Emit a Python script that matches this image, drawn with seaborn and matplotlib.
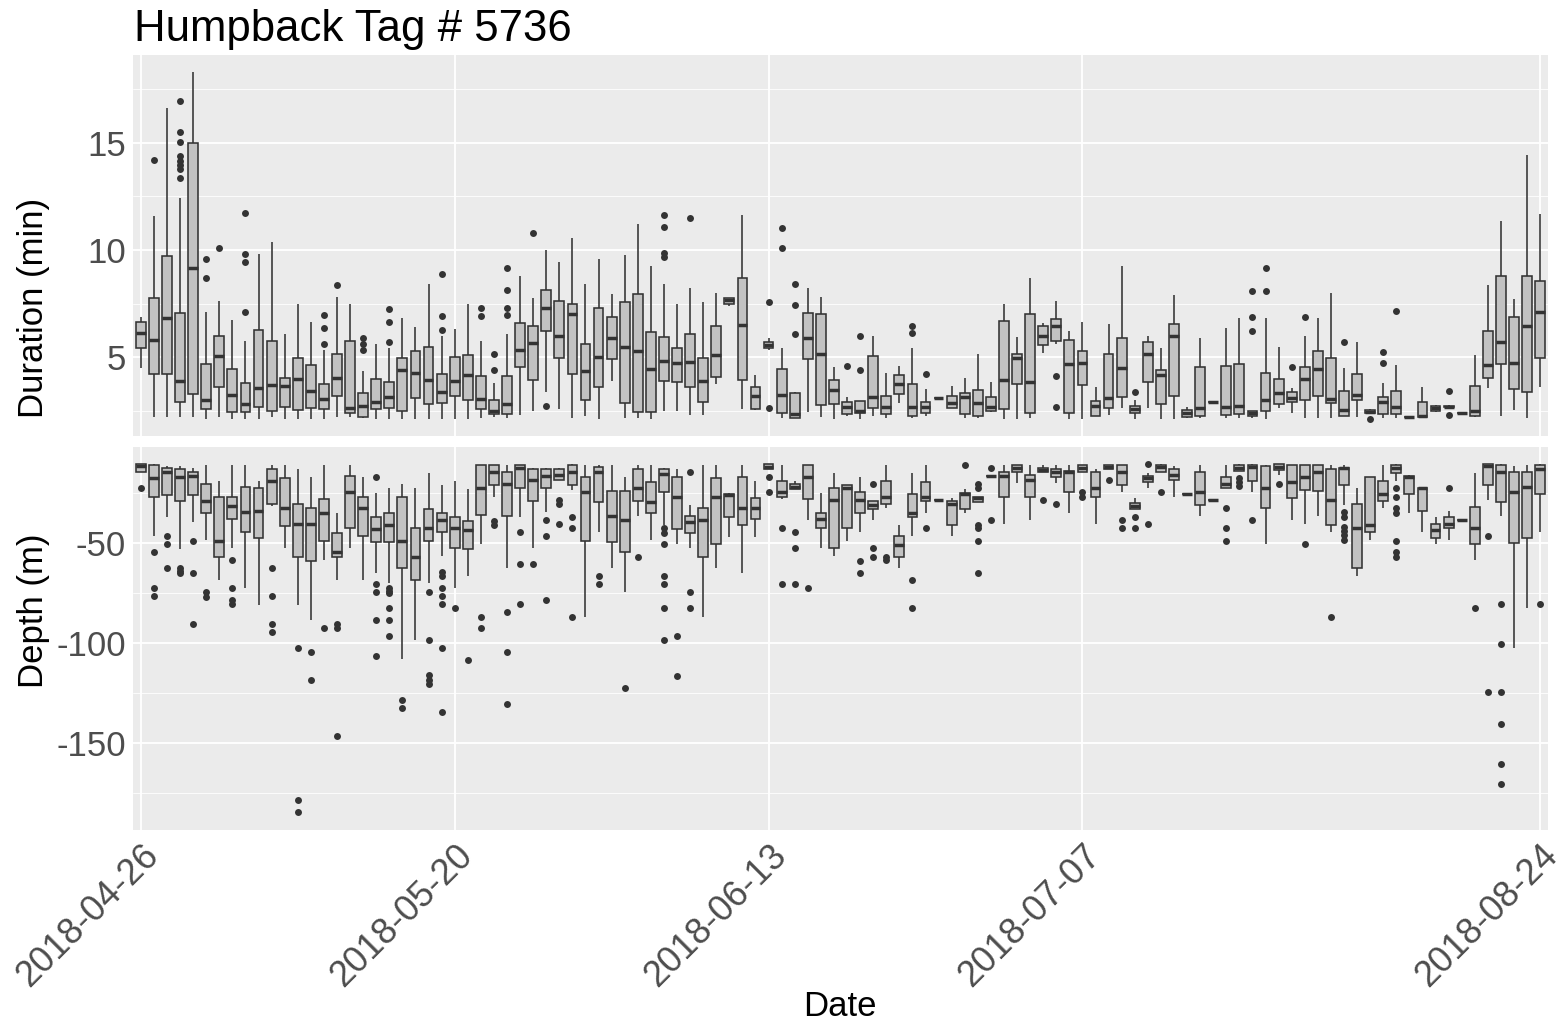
import matplotlib
matplotlib.use("Agg")
import matplotlib.pyplot as plt
import matplotlib.transforms as mtransforms
from matplotlib.ticker import MultipleLocator, FixedLocator
import seaborn as sns
import pandas as pd

# dias con datos: 04-26 .. 07-07 seguidos, despues solo algunos dias hasta 08-24
early_dates = list(pd.date_range("2018-04-26", "2018-07-07").strftime("%Y-%m-%d"))
late_dates = [
    "2018-07-08", "2018-07-10", "2018-07-11", "2018-07-12", "2018-07-14", "2018-07-15",
    "2018-07-16", "2018-07-18", "2018-07-19", "2018-07-20", "2018-07-22", "2018-07-23",
    "2018-07-24", "2018-07-26", "2018-07-27", "2018-07-28", "2018-07-30", "2018-07-31",
    "2018-08-02", "2018-08-03", "2018-08-04", "2018-08-06", "2018-08-07", "2018-08-09",
    "2018-08-10", "2018-08-12", "2018-08-13", "2018-08-15", "2018-08-16", "2018-08-18",
    "2018-08-19", "2018-08-21", "2018-08-22", "2018-08-23", "2018-08-24",
]
dates = early_dates + late_dates
tick_dates = ["2018-04-26", "2018-05-20", "2018-06-13", "2018-07-07", "2018-08-24"]

# Duration (min): whisker low, q1, median, q3, whisker high
dur_lo = [4.5, 2.2, 2.2, 2.2, 2.2, 2.09, 2.2, 2.09, 2.09, 2.09, 2.2, 2.09, 2.09, 2.09, 2.09, 2.2,
          2.2, 2.13, 2.09, 2.09, 2.09, 2.09, 2.09, 2.09, 2.09, 2.09, 2.13, 2.2, 2.13, 2.29, 2.48, 3.38,
          2.57, 2.17, 2.24, 2.09, 3.88, 2.17, 2.13, 2.09, 2.48, 2.48, 2.29, 2.29, 3.72, 7.4, 2.57, 2.52,
          5.32, 2.13, 2.13, 2.45, 2.2, 2.09, 2.24, 2.09, 2.24, 2.13, 2.83, 2.13, 2.24, 3.1, 2.63, 2.13,
          2.13, 2.45, 2.09, 2.09, 2.13, 5.17, 5.59, 2.09, 2.09, 2.26, 2.29, 2.6, 2.09, 2.6, 2.09, 2.09,
          2.13, 2.13, 2.88, 2.13, 2.13, 2.13, 2.09, 2.6, 2.4, 2.17, 2.17, 2.17, 2.26, 2.2, 2.37, 2.17,
          2.17, 2.21, 2.17, 2.45, 2.62, 2.37, 2.2, 3.57, 2.26, 2.52, 2.17, 3.61]
dur_q1 = [5.4, 4.2, 4.2, 2.9, 3.26, 2.57, 3.6, 2.45, 2.45, 2.66, 2.48, 2.68, 2.52, 2.63, 2.57, 3.19,
          2.37, 2.21, 2.57, 2.6, 2.48, 3.07, 2.82, 2.83, 3.19, 2.99, 2.57, 2.32, 2.32, 4.52, 3.91, 6.21,
          4.94, 4.19, 2.99, 3.61, 4.89, 2.83, 2.45, 2.45, 3.88, 3.85, 3.61, 2.91, 4.05, 7.5, 3.93, 2.57,
          5.4, 2.37, 2.17, 4.91, 2.76, 2.79, 2.32, 2.37, 2.6, 2.32, 3.26, 2.24, 2.37, 3.1, 2.63, 2.32,
          2.24, 2.48, 2.57, 3.72, 2.37, 5.56, 5.75, 2.37, 3.69, 2.26, 2.63, 3.13, 2.37, 3.82, 2.79, 3.18,
          2.21, 2.24, 2.88, 2.29, 2.32, 2.26, 2.48, 2.8, 2.91, 2.99, 3.18, 2.83, 2.26, 2.99, 2.37, 2.34,
          2.32, 2.21, 2.21, 2.48, 2.65, 2.37, 2.26, 4.03, 4.67, 3.5, 3.38, 4.97]
dur_med = [6.1, 5.8, 6.84, 3.88, 9.14, 2.99, 5.05, 3.22, 2.79, 3.54, 3.69, 3.64, 3.96, 3.43, 3.04, 4.0,
           2.63, 2.71, 2.88, 3.15, 4.39, 4.24, 3.93, 3.35, 3.9, 4.16, 3.04, 2.48, 2.82, 5.31, 5.64, 7.27,
           6.0, 6.99, 4.36, 5.02, 5.9, 5.48, 5.3, 4.44, 4.81, 4.7, 4.75, 3.9, 5.09, 7.66, 6.5, 3.18,
           5.56, 3.22, 2.32, 5.87, 5.14, 3.46, 2.68, 2.48, 3.15, 2.68, 3.74, 2.68, 2.68, 3.1, 2.87, 3.15,
           2.87, 2.68, 3.93, 4.94, 3.82, 5.98, 6.46, 4.66, 4.7, 2.71, 3.1, 4.5, 2.55, 5.14, 4.16, 6.0,
           2.37, 2.6, 2.88, 2.68, 2.71, 2.37, 2.99, 3.3, 3.07, 3.97, 4.42, 3.04, 2.52, 3.22, 2.45, 2.88,
           2.68, 2.21, 2.24, 2.6, 2.68, 2.37, 2.48, 4.63, 5.69, 4.7, 6.46, 7.12]
dur_q3 = [6.65, 7.74, 9.7, 7.07, 15.0, 4.66, 6.0, 4.44, 3.77, 6.25, 5.75, 4.03, 4.94, 4.63, 3.75, 5.14,
          5.76, 3.33, 3.96, 3.82, 4.97, 5.28, 5.45, 4.19, 5.02, 5.09, 4.13, 2.99, 4.13, 6.57, 6.45, 8.13,
          7.62, 7.46, 5.61, 7.3, 6.88, 7.55, 7.96, 6.15, 5.95, 5.4, 6.07, 4.94, 6.46, 7.77, 8.71, 3.58,
          5.69, 4.42, 3.3, 7.04, 7.01, 3.93, 2.91, 2.94, 5.06, 3.18, 4.16, 3.72, 2.91, 3.1, 3.18, 3.3,
          3.46, 3.15, 6.68, 5.14, 6.99, 6.46, 6.76, 5.79, 5.28, 2.94, 5.12, 5.87, 2.73, 5.69, 4.39, 6.53,
          2.52, 4.52, 2.88, 4.6, 4.66, 2.49, 4.24, 3.96, 3.38, 4.55, 5.3, 4.94, 3.41, 4.21, 2.52, 3.12,
          3.41, 2.21, 2.91, 2.73, 2.71, 2.37, 3.66, 6.21, 8.8, 6.85, 8.8, 8.57]
dur_hi = [6.88, 11.6, 16.65, 12.45, 18.33, 7.09, 7.62, 6.73, 5.75, 9.83, 10.39, 6.06, 7.5, 6.65, 5.33, 7.82,
          7.5, 4.35, 5.62, 5.4, 6.8, 6.42, 8.4, 6.0, 6.29, 7.5, 5.75, 3.8, 6.09, 8.79, 7.74, 10.0,
          9.45, 10.58, 8.4, 9.58, 7.93, 9.77, 11.2, 9.25, 8.4, 7.46, 8.21, 7.55, 7.98, 7.77, 11.64, 4.16,
          5.9, 5.44, 3.38, 8.24, 7.79, 4.55, 3.15, 2.94, 5.98, 4.24, 4.6, 5.4, 3.5, 3.1, 3.64, 4.03,
          5.14, 3.82, 7.46, 5.95, 8.68, 6.6, 7.63, 6.21, 6.65, 3.61, 6.54, 9.27, 2.99, 5.98, 5.44, 7.9,
          2.68, 5.9, 2.88, 6.34, 6.84, 2.49, 6.84, 5.48, 3.54, 6.0, 6.8, 7.98, 4.47, 5.69, 2.57, 3.8,
          4.63, 2.21, 3.61, 2.76, 2.74, 2.37, 5.09, 8.36, 11.37, 7.69, 14.44, 11.68]
dur_outliers = {
    1: [14.2], 3: [16.96, 15.5, 15.06, 14.4, 14.16, 13.97, 13.77, 13.35], 5: [9.56, 8.7],
    6: [10.1], 8: [11.74, 9.8, 9.42, 7.12], 14: [6.96, 6.34, 5.62], 15: [8.36],
    17: [5.9, 5.62, 5.33], 19: [7.23, 6.62, 5.69], 23: [8.9, 6.92, 6.26], 26: [7.27, 6.92],
    27: [5.14, 4.38], 28: [9.14, 8.13, 7.27, 6.96], 30: [10.78], 31: [2.71],
    40: [11.62, 11.06, 9.84, 9.69], 42: [11.48], 48: [7.55, 2.6], 49: [11.04, 10.1],
    50: [8.4, 7.43, 6.06], 54: [4.58], 55: [6.0, 4.38], 59: [6.46, 6.1], 60: [4.21],
    70: [4.13, 2.65], 76: [3.38], 85: [8.1, 6.88, 6.21], 86: [9.14, 8.1], 88: [4.55],
    89: [6.88], 92: [5.69], 94: [2.09], 95: [5.25, 4.7], 96: [7.17], 100: [3.41, 2.29],
}

# Depth (m): whisker low, q1, median, q3, whisker high
dep_lo = [-14.3, -46.3, -36.8, -53, -39.3, -48.5, -68.5, -52.7, -72.7, -81, -31.5, -52.3, -81, -88.5, -58.5, -68.5,
          -52.7, -68.5, -64.8, -70.2, -108.2, -98.5, -70.2, -56.5, -72.7, -66.5, -50.5, -26.8, -62.7, -36.8, -52.7, -34.3,
          -18.5, -23.5, -86.8, -44.7, -62.7, -74.3, -36.5, -48.5, -41, -50.7, -52.7, -86.8, -62.7, -46.8, -64.8, -46.8,
          -13, -28, -23.2, -38.5, -52.7, -56.5, -48.8, -44.7, -38.5, -32.7, -62.7, -46.3, -35.2, -28.5, -46.3, -34.8,
          -29.3, -16.5, -40.5, -20.2, -38.5, -14.7, -20.2, -34.8, -14.7, -40.5, -13, -24.3, -33, -22.3, -14.7, -26.8,
          -25.7, -36.5, -28.5, -22.7, -14, -24.3, -50.7, -16, -38.5, -40.5, -36.5, -44.7, -31, -66.5, -48.5, -32.7,
          -18.8, -34.8, -44.7, -50.7, -48.5, -38.5, -58.5, -28.5, -36.5, -102.7, -82.7, -44.7]
dep_q1 = [-14.3, -27.2, -26, -28.8, -26, -35.2, -56.8, -38.2, -44.7, -47.7, -30.7, -41.5, -56.8, -58.8, -49, -56.8,
          -42.3, -46.5, -49.7, -49.7, -62.7, -68.5, -49, -44.7, -52.7, -53.2, -36, -21, -36.5, -22.7, -29, -22.3,
          -18.5, -21, -49, -29.7, -49.7, -54.7, -28.8, -34.8, -24.3, -43.2, -45.2, -56.8, -50.7, -36.8, -41, -38,
          -13, -26.8, -23.2, -28, -42.7, -52.3, -42.3, -34.8, -33, -30.7, -57.2, -36.8, -28.8, -28.5, -41, -33.2,
          -29.3, -16.5, -26.8, -14.3, -26.8, -14.7, -16.8, -24.7, -14.3, -26.8, -13, -21, -33, -19.7, -14.7, -18.5,
          -25.7, -31, -28.5, -22.7, -14, -18.8, -32.3, -13.5, -27.3, -23.5, -23.8, -41, -21, -62.7, -44.7, -28.8,
          -15.2, -25.7, -34, -47.3, -42.7, -38.5, -50.7, -21, -29.7, -49.8, -47.3, -25.5]
dep_med = [-11.3, -17.7, -14.7, -17.2, -16.3, -29, -48.8, -31.5, -34.7, -33.8, -18.8, -32.7, -40.7, -40.7, -34.8, -54.7,
           -24.3, -32.7, -43, -41, -48.8, -56.8, -42.7, -38.5, -42.7, -43.5, -22.7, -14.7, -20.7, -12.3, -18.5, -16.5,
           -16, -14.7, -24.3, -14.3, -36.5, -38.5, -22.7, -29.7, -15.7, -26.8, -39.7, -38.5, -26.8, -26, -32.7, -32.7,
           -11.8, -24.3, -21.8, -16.8, -38, -28.5, -22.3, -28.5, -31, -26.8, -51, -35.2, -26.8, -28.5, -30.7, -25.7,
           -27.7, -16.5, -16.5, -12.7, -18.5, -13.5, -14.3, -14.3, -12.7, -22.7, -11.8, -14.3, -31.5, -17.7, -11.8, -16,
           -25.7, -24.3, -28.5, -20.7, -12.3, -11.8, -22.7, -11.8, -19.3, -16.8, -14.7, -28.5, -12.7, -42.7, -41, -25.7,
           -12.7, -16.8, -22.7, -43.5, -40.7, -38.5, -42.7, -11.3, -14.7, -24.7, -21.8, -13]
dep_q3 = [-10.5, -11, -12.7, -13, -14.7, -20.5, -26.8, -26.8, -21.8, -22.7, -13.2, -17.7, -30.7, -32.7, -28.2, -44.8,
          -16.3, -26.8, -36.8, -34.8, -26.8, -42.3, -33.2, -34.8, -36.8, -39, -11, -11, -14.7, -11, -13, -13,
          -13, -11, -16.8, -11.8, -23.8, -24, -13, -19.3, -13, -16.8, -36.3, -32.7, -17.7, -25.7, -16.8, -27.7,
          -10.5, -18.8, -20.7, -11, -34.8, -22.7, -21, -24.7, -29, -19, -46.3, -25.5, -19.7, -28.5, -29, -24.8,
          -26.8, -16.5, -14.7, -11, -16, -12.3, -13, -14, -11, -14.7, -11, -11, -30.2, -16.3, -11, -13.2,
          -25.7, -14.7, -28.5, -16.8, -11, -11, -11.3, -10.5, -11, -11, -11, -13, -12.3, -30.7, -16.8, -19,
          -11, -16.5, -22.3, -40.7, -36.8, -38.5, -32.2, -10.5, -11, -14.3, -14.7, -11]
dep_hi = [-10.5, -10.7, -11.3, -11.3, -12.7, -11, -18.8, -11, -11, -18.8, -11, -11, -13, -16.8, -11, -35.2,
          -11, -16.8, -24.8, -22.7, -20.7, -22.7, -15.2, -21, -19, -23, -11, -11, -11, -11, -12.7, -12.7,
          -12.7, -10.7, -11, -11, -11, -17.2, -11, -11, -12.3, -13, -31, -11, -11, -25.2, -11, -19,
          -10.5, -11, -19, -11, -25.2, -15.2, -21, -16.8, -29, -11, -41, -15.2, -11, -28.5, -27.7, -23.2,
          -26.8, -16.5, -11, -11, -11, -11, -11, -11, -11, -13, -11, -11, -27.3, -15.2, -10.7, -11.3,
          -25.7, -11, -28.5, -11, -10.5, -10.7, -11, -10.5, -11, -11, -11, -11, -11, -22.7, -16.8, -11,
          -10.5, -16, -22.3, -36.8, -34, -38.5, -15.2, -10.5, -10.7, -11.3, -11, -10.7]
dep_outliers = {
    0: [-22.3], 1: [-54.7, -72.7, -76.5], 2: [-46.5, -50.7, -62.7], 3: [-62.3, -64, -65.2],
    4: [-48.8, -64.8, -90.7], 5: [-74.3, -76.8], 7: [-58.5, -72.7, -78.5, -80.7],
    10: [-62.7, -76.5, -90.5, -94.7], 12: [-102.7, -178.5, -184.3], 13: [-104.7, -118.5],
    14: [-92.5], 15: [-90.5, -92.3, -146.5], 18: [-16.8, -70.7, -74.7, -88.5, -106.5],
    19: [-72.3, -73.8, -74.8, -82.7, -88.5, -96.5], 20: [-128.5, -132.7],
    22: [-74.7, -98.5, -116, -118.5, -120.7], 23: [-64.3, -66.3, -72.7, -76.5, -80.7, -102.7, -134.3],
    24: [-82.7], 25: [-108.5], 26: [-86.8, -92.5], 27: [-38.8, -41], 28: [-84.3, -104.7, -130.5],
    29: [-44.7, -60.5, -80.7], 30: [-60.5], 31: [-38.5, -46.5, -78.5], 32: [-28.5, -30.7, -40.7],
    33: [-36.8, -42.7, -86.8], 35: [-66.5, -70.7], 37: [-122.7], 38: [-56.8],
    40: [-42.7, -45.2, -50.7, -66.5, -70.7, -82.7, -98.5], 41: [-96.5, -116.5],
    42: [-14.7, -74.7, -82.7], 48: [-16.8, -24.7], 49: [-42.7, -70.7], 50: [-44.7, -52.7, -70.7],
    51: [-72.7], 55: [-58.8, -64.8], 56: [-20.7, -52.7, -56.8], 57: [-56.8, -58.5], 59: [-68.5, -82.7],
    60: [-42.7], 63: [-11], 64: [-20.7, -22.7, -41, -42.7, -48.8, -64.8], 65: [-12.7, -38.5],
    69: [-28.5], 70: [-30.7], 72: [-24.3, -26.8], 74: [-18.5], 75: [-38.5, -42.7], 76: [-36.8, -42.7],
    77: [-10.7, -40.7], 78: [-24.7], 83: [-32.7, -42.7, -48.8], 84: [-17.7, -19.3, -21.5],
    85: [-38.5], 87: [-20.7], 89: [-50.7], 91: [-86.8], 92: [-34.3, -36.8, -41.8, -44, -46, -48.5],
    96: [-22.7, -26.8, -32.7, -35.2, -48.8, -54.3, -56.8], 100: [-22.7], 102: [-82.7],
    103: [-46.5, -124.7], 104: [-80.7, -100.7, -124.7, -140.7, -160.7, -170.7], 107: [-80.7],
}

BOX_FILL = "#C2C2C2"
LINE_COL = "#333333"
TEXT_COL = "#4D4D4D"


def summary_frame(lo, q1, med, q3, hi):
    # cinco valores por dia -> los cuartiles de seaborn caen justo en q1/med/q3
    rows = []
    for i, d in enumerate(dates):
        for v in (lo[i], q1[i], med[i], q3[i], hi[i]):
            rows.append((d, v))
    return pd.DataFrame(rows, columns=["date", "value"])


def outlier_frame(outliers):
    rows = [(dates[i], v) for i, vals in outliers.items() for v in vals]
    return pd.DataFrame(rows, columns=["date", "value"])


def draw_panel(ax, box_df, out_df, ylim, major, minor):
    sns.boxplot(data=box_df, x="date", y="value", order=dates, whis=(0, 100),
                width=0.75, color=BOX_FILL, saturation=1, linecolor=LINE_COL,
                linewidth=1.15, showcaps=False, fliersize=0,
                medianprops=dict(linewidth=2.5, color=LINE_COL), ax=ax)
    sns.stripplot(data=out_df, x="date", y="value", order=dates, jitter=False,
                  color=LINE_COL, size=5.0, linewidth=0, ax=ax)
    ax.set_xlim(-0.6, len(dates) - 0.4)
    ax.set_ylim(*ylim)
    ax.yaxis.set_major_locator(MultipleLocator(major))
    ax.yaxis.set_minor_locator(MultipleLocator(minor))
    ax.xaxis.set_major_locator(FixedLocator([dates.index(d) for d in tick_dates]))
    ax.set_axisbelow(True)
    ax.grid(True, which="major", color="white", linewidth=1.3)
    ax.grid(True, which="minor", axis="y", color="white", linewidth=0.6)
    for s in ax.spines.values():
        s.set_visible(False)
    ax.set_xlabel("")
    ax.set_ylabel("")
    ax.tick_params(axis="y", which="major", length=3, width=0.9, color=LINE_COL,
                   labelsize=25, labelcolor=TEXT_COL, pad=2)
    ax.tick_params(axis="both", which="minor", length=0)


sns.set_theme(style="darkgrid", rc={"axes.facecolor": "#EBEBEB"})
plt.rcParams["font.family"] = ["Liberation Sans", "DejaVu Sans"]
plt.rcParams["axes.unicode_minus"] = False

fig = plt.figure(figsize=(15.62, 10.27), dpi=100)
ax_top = fig.add_axes([133 / 1562, 1 - 436 / 1027, 1415 / 1562, 381 / 1027])
ax_bot = fig.add_axes([133 / 1562, 1 - 830 / 1027, 1415 / 1562, 383 / 1027])

draw_panel(ax_top, summary_frame(dur_lo, dur_q1, dur_med, dur_q3, dur_hi),
           outlier_frame(dur_outliers), (1.31, 19.11), 5, 2.5)
draw_panel(ax_bot, summary_frame(dep_lo, dep_q1, dep_med, dep_q3, dep_hi),
           outlier_frame(dep_outliers), (-193.5, -2.0), 50, 25)

ax_top.tick_params(axis="x", length=0, labelbottom=False)
ax_bot.set_xticklabels(tick_dates)
ax_bot.tick_params(axis="x", which="major", length=3, width=0.9, color=LINE_COL,
                   labelsize=26, labelcolor=TEXT_COL, pad=2)
shift = mtransforms.ScaledTranslation(0.0, -0.01, fig.dpi_scale_trans)
for lab in ax_bot.get_xticklabels():
    lab.set_rotation(45)
    lab.set_ha("right")
    lab.set_va("top")
    lab.set_rotation_mode("anchor")
    lab.set_transform(lab.get_transform() + shift)

fig.text(134 / 1562, 1 - 30 / 1027, "Humpback Tag # 5736", fontsize=31.5,
         ha="left", va="center", color="black")
fig.text(34 / 1562, 1 - 308 / 1027, "Duration (min)", fontsize=25, rotation=90,
         ha="center", va="center", color="black")
fig.text(34 / 1562, 1 - 611 / 1027, "Depth (m)", fontsize=25, rotation=90,
         ha="center", va="center", color="black")
fig.text(840 / 1562, 1 - 1006 / 1027, "Date", fontsize=25, ha="center", va="center",
         color="black")

fig.savefig("out.png", dpi=100, facecolor="white")
